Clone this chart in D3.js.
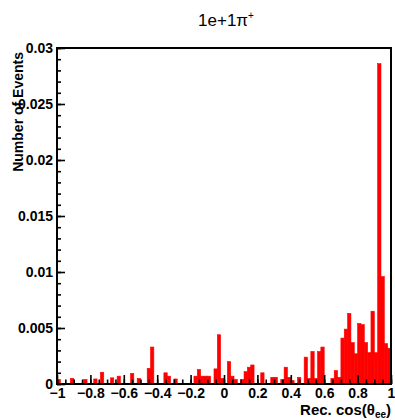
<!DOCTYPE html>
<html>
<head>
<meta charset="utf-8">
<script src="https://cdn.jsdelivr.net/npm/d3@7"></script>
<style>
  html, body { margin: 0; padding: 0; background: #ffffff; }
  svg { display: block; }
  .tick text { font-family: "Liberation Sans", Arial, sans-serif; font-weight: bold; font-size: 14px; fill: #000; }
</style>
</head>
<body>
<div id="chart"></div>
<script>
// histogram binning (100 bins over [-1, 1])
const binLow = -1;
const binWidth = 0.02;

// bin contents (bin 0 = [-1, -0.98])
const counts = [
    0.0004, 0, 0, 0, 0.0005, 0, 0, 0, 0.0004, 0,
    0, 0.00045, 0, 0.00105, 0, 0, 0.00055, 0, 0.0007, 0,
    0, 0, 0.00095, 0, 0.0005, 0, 0, 0.0014, 0.0033, 0,
    0, 0, 0.001, 0.0007, 0, 0.00045, 0, 0, 0, 0,
    0, 0.0007, 0.0013, 0.0007, 0.0007, 0.0007, 0, 0.00135, 0.0044, 0.0005,
    0, 0.002, 0.0007, 0.0004, 0, 0.0004, 0.0011, 0.0015, 0.0017, 0,
    0, 0.001, 0, 0, 0.0006, 0.0006, 0, 0.0004, 0.0015, 0.0006,
    0.0003, 0, 0.0006, 0, 0.0024, 0.0005, 0.0029, 0.0005, 0.0029, 0.0033,
    0, 0, 0.0005, 0.0012, 0.0006, 0.0041, 0.0049, 0.0063, 0.0037, 0.0027,
    0.0054, 0.0053, 0.0037, 0.0028, 0.0065, 0.0028, 0.0286, 0.0096, 0.0036, 0.0032
];

const xMajorTicks = [-1, -0.8, -0.6, -0.4, -0.2, 0, 0.2, 0.4, 0.6, 0.8, 1];
const xTickLabels = ['\u22121', '\u22120.8', '\u22120.6', '\u22120.4', '\u22120.2', '0', '0.2', '0.4', '0.6', '0.8', '1'];
const yMajorTicks = [0, 0.005, 0.01, 0.015, 0.02, 0.025, 0.03];
const yTickLabels = ['0', '0.005', '0.01', '0.015', '0.02', '0.025', '0.03'];

const W = 395, H = 420;
const frame = { left: 57, right: 391, top: 48, bottom: 384 };

const svg = d3.select('#chart').append('svg')
    .attr('width', W)
    .attr('height', H);

svg.append('rect').attr('width', W).attr('height', H).attr('fill', '#ffffff');

const x = d3.scaleLinear().domain([-1, 1]).range([frame.left, frame.right]);
const y = d3.scaleLinear().domain([0, 0.03]).range([frame.bottom, frame.top]);

// bars
const bins = counts.map((v, i) => ({ x0: binLow + i * binWidth, x1: binLow + (i + 1) * binWidth, v: v }));

svg.append('g')
    .selectAll('rect')
    .data(bins.filter(d => d.v > 0))
    .enter()
    .append('rect')
    .attr('x', d => x(d.x0))
    .attr('width', d => x(d.x1) - x(d.x0))
    .attr('y', d => y(d.v))
    .attr('height', d => y(0) - y(d.v))
    .attr('fill', '#ff0000')
    .attr('stroke', '#ff0000')
    .attr('stroke-width', 0.6);

// minor ticks
const xMinor = d3.range(-1, 1.0001, 0.05).map(v => +v.toFixed(2));
const yMinor = d3.range(0, 0.03001, 0.001).map(v => +v.toFixed(3));

svg.append('g')
    .attr('transform', `translate(0,${frame.bottom})`)
    .call(d3.axisBottom(x).tickValues(xMinor).tickSizeInner(-4.5).tickSizeOuter(0).tickFormat(''))
    .call(g => g.select('.domain').remove())
    .call(g => g.selectAll('line').attr('stroke-width', 1.6));

svg.append('g')
    .attr('transform', `translate(${frame.left},0)`)
    .call(d3.axisLeft(y).tickValues(yMinor).tickSizeInner(-4).tickSizeOuter(0).tickFormat(''))
    .call(g => g.select('.domain').remove())
    .call(g => g.selectAll('line').attr('stroke-width', 1.6));

// major ticks + labels
svg.append('g')
    .attr('transform', `translate(0,${frame.bottom})`)
    .call(d3.axisBottom(x).tickValues(xMajorTicks).tickSizeInner(-9).tickSizeOuter(0).tickPadding(4)
        .tickFormat((d, i) => xTickLabels[i]))
    .call(g => g.select('.domain').remove())
    .call(g => g.selectAll('line').attr('stroke-width', 1.6));

svg.append('g')
    .attr('transform', `translate(${frame.left},0)`)
    .call(d3.axisLeft(y).tickValues(yMajorTicks).tickSizeInner(-8).tickSizeOuter(0).tickPadding(4)
        .tickFormat((d, i) => yTickLabels[i]))
    .call(g => g.select('.domain').remove())
    .call(g => g.selectAll('line').attr('stroke-width', 1.6));

// frame
svg.append('rect')
    .attr('x', frame.left)
    .attr('y', frame.top)
    .attr('width', frame.right - frame.left)
    .attr('height', frame.bottom - frame.top)
    .attr('fill', 'none')
    .attr('stroke', '#000')
    .attr('stroke-width', 2);

// title
const title = svg.append('text')
    .attr('x', 226)
    .attr('y', 26)
    .attr('text-anchor', 'middle')
    .style('font-family', '"Liberation Sans", Arial, sans-serif')
    .style('font-size', '17px')
    .style('fill', '#000');
title.append('tspan').text('1e+1\u03c0');
title.append('tspan').attr('dy', -7).style('font-size', '10px').text('+');

// y title
svg.append('text')
    .attr('transform', 'translate(23,52) rotate(-90)')
    .attr('text-anchor', 'end')
    .style('font-family', '"Liberation Sans", Arial, sans-serif')
    .style('font-weight', 'bold')
    .style('font-size', '14px')
    .style('fill', '#000')
    .text('Number of Events');

// x title
const xt = svg.append('text')
    .attr('x', 391)
    .attr('y', 415)
    .attr('text-anchor', 'end')
    .style('font-family', '"Liberation Sans", Arial, sans-serif')
    .style('font-weight', 'bold')
    .style('font-size', '15px')
    .style('fill', '#000');
xt.append('tspan').text('Rec. cos(\u03b8');
xt.append('tspan').attr('dy', 3).style('font-size', '10px').text('ee');
xt.append('tspan').attr('dy', -3).text(')');
</script>
</body>
</html>
